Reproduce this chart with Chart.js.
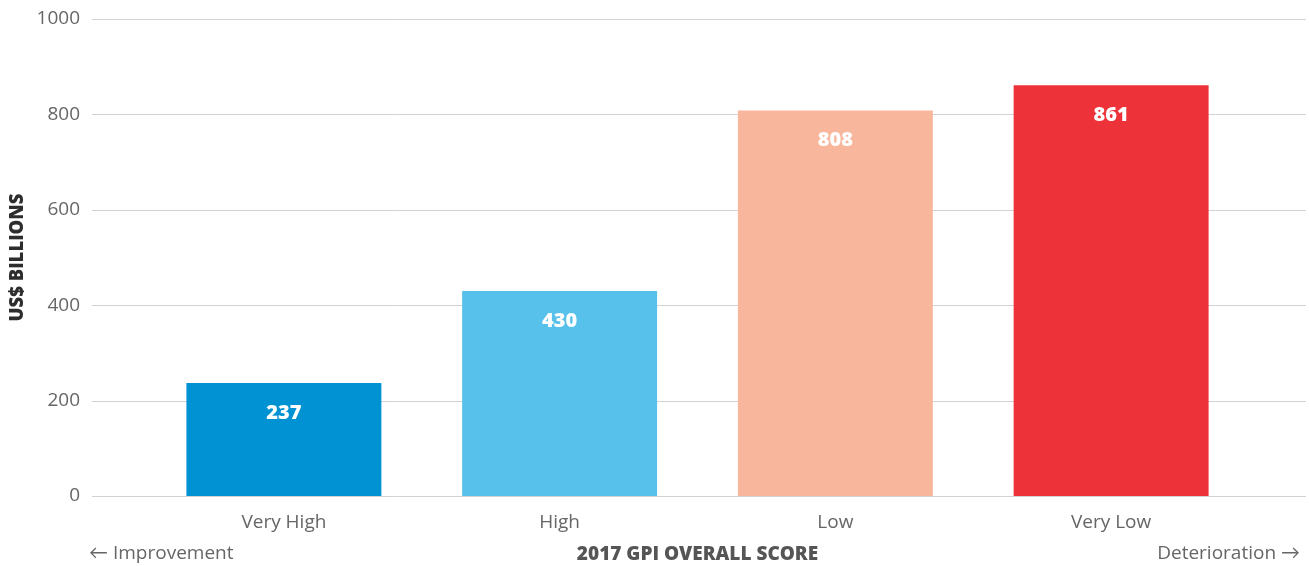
<!DOCTYPE html>
<html>
<head>
<meta charset="utf-8">
<script src="https://cdn.jsdelivr.net/npm/chart.js@4/dist/chart.umd.min.js"></script>
<style>
  html, body { margin: 0; padding: 0; background: #fff; }
  #wrap { width: 1309px; height: 566px; }
</style>
</head>
<body>
<div id="wrap"><canvas id="gpiChart" width="1309" height="566"></canvas></div>
<script>
// Cost by 2017 GPI overall score
const categories = ['Very High', 'High', 'Low', 'Very Low'];
const costValues = [237, 430, 808, 861];
const barColors = ['#0092d2', '#57c1eb', '#f8b79d', '#ee3239'];
const yTicks = [0, 200, 400, 600, 800, 1000];

const FONT = '"Open Sans", Lato, sans-serif';

// full-width gridlines, run before the bars
const gridPlugin = {
  id: 'wideGrid',
  beforeDatasetsDraw(chart){
    const {ctx, chartArea, scales:{y}} = chart;
    ctx.save();
    ctx.strokeStyle = '#d2d2d2';
    ctx.lineWidth = 1;
    yTicks.forEach(v => {
      const py = Math.round(y.getPixelForValue(v)) + 0.5;
      ctx.beginPath();
      ctx.moveTo(chartArea.left - 54, py);
      ctx.lineTo(chartArea.right + 57, py);
      ctx.stroke();
    });
    ctx.restore();
  }
};

// value labels inside bars + direction notes
const labelPlugin = {
  id: 'barLabels',
  afterDatasetsDraw(chart){
    const {ctx, chartArea} = chart;
    const meta = chart.getDatasetMeta(0);
    ctx.save();
    ctx.fillStyle = '#fff';
    ctx.font = '800 20px ' + FONT;
    ctx.textAlign = 'center';
    ctx.textBaseline = 'middle';
    meta.data.forEach((bar, i) => {
      ctx.fillText(String(costValues[i]), bar.x, bar.y + 30);
    });
    ctx.fillStyle = '#666';
    ctx.font = '19px ' + FONT;
    const ty = 554;
    ctx.textAlign = 'left';
    ctx.fillText('\u2190 Improvement', chartArea.left - 57, ty);
    ctx.textAlign = 'right';
    ctx.fillText('Deterioration \u2192', chartArea.right + 51, ty);
    ctx.restore();
  }
};

new Chart(document.getElementById('gpiChart'), {
  type: 'bar',
  data: {
    labels: categories,
    datasets: [{
      data: costValues,
      backgroundColor: barColors,
      borderWidth: 0,
      barPercentage: 0.707,
      categoryPercentage: 1
    }]
  },
  options: {
    responsive: false,
    animation: false,
    layout: { padding: { left: 0, right: 60, top: 19, bottom: 0 } },
    plugins: { legend: { display: false }, tooltip: { enabled: false } },
    scales: {
      x: {
        grid: { display: false, drawTicks: false },
        border: { display: false },
        ticks: { color: '#666', font: { family: FONT, size: 19 }, padding: 15 },
        title: {
          display: true,
          text: '2017 GPI OVERALL SCORE',
          color: '#555',
          font: { family: FONT, size: 19, weight: '800' },
          padding: { top: 8, bottom: 0 }
        },
        afterFit(axis){ axis.height = 70; }
      },
      y: {
        min: 0,
        max: 1000,
        afterBuildTicks(axis){ axis.ticks = yTicks.map(v => ({ value: v })); },
        grid: { display: false, drawTicks: true, tickLength: 62 },
        border: { display: false },
        ticks: { color: '#666', font: { family: FONT, size: 19 }, padding: 4, callback: v => String(v) },
        title: {
          display: true,
          text: 'US$ BILLIONS',
          color: '#2d2d2d',
          font: { family: FONT, size: 18.5, weight: '800' },
          padding: { top: 7, bottom: 0 }
        },
        afterFit(axis){ axis.width = 146; }
      }
    }
  },
  plugins: [gridPlugin, labelPlugin]
});
</script>
</body>
</html>
